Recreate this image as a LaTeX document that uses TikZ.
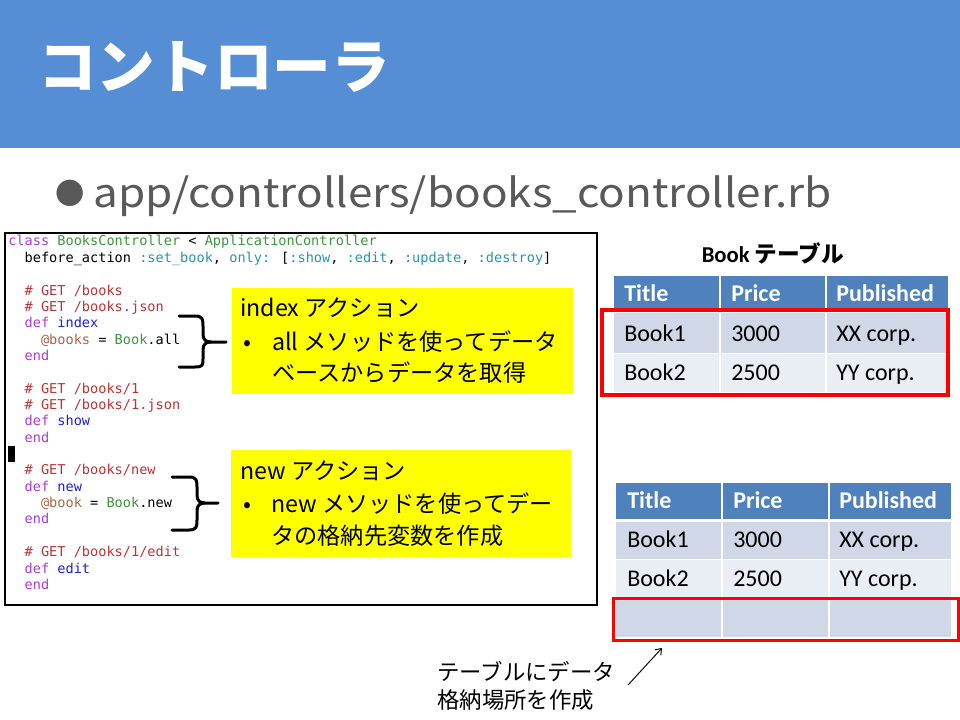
\documentclass[tikz,border=0pt]{standalone}
\usepackage{fontspec}
\usetikzlibrary{arrows.meta}
\setmainfont{Noto Sans CJK JP}
\newfontfamily\jpf{Noto Sans CJK JP}
\newfontfamily\calf{Carlito}
\newfontfamily\monof{DejaVu Sans Mono}
\definecolor{hdrblue}{RGB}{85,142,213}
\definecolor{graytxt}{RGB}{89,89,89}
\definecolor{tabhead}{RGB}{79,129,189}
\definecolor{tabrowa}{RGB}{208,216,232}
\definecolor{tabrowb}{RGB}{233,237,244}
\definecolor{kwc}{RGB}{175,60,210}
\definecolor{cnc}{RGB}{60,150,60}
\definecolor{syc}{RGB}{40,150,170}
\definecolor{cmc}{RGB}{190,50,50}
\definecolor{fnc}{RGB}{30,30,230}
\definecolor{ivc}{RGB}{170,100,70}
\definecolor{hlyellow}{RGB}{255,255,0}
\newcommand{\kwt}[1]{\textcolor{kwc}{#1}}
\newcommand{\cnt}[1]{\textcolor{cnc}{#1}}
\newcommand{\syt}[1]{\textcolor{syc}{#1}}
\newcommand{\cmt}[1]{\textcolor{cmc}{#1}}
\newcommand{\fnt}[1]{\textcolor{fnc}{#1}}
\newcommand{\ivt}[1]{\textcolor{ivc}{#1}}
\newcommand{\cdln}[4]{\node[codetxt] (#1) at ({8+8.19*#2},{246+16.35*#3}) {#4};}
\tikzset{
  codetxt/.style={anchor=base west, inner sep=0pt, font=\monof\fontsize{10.2pt}{12pt}\selectfont, text=black},
  boxtxt/.style={anchor=base west, inner sep=0pt, font=\jpf\fontsize{17.4pt}{22pt}\selectfont, text=black},
  thtxt/.style={anchor=base west, inner sep=0pt, font=\calf\bfseries\fontsize{18pt}{22pt}\selectfont, text=white},
  tdtxt/.style={anchor=base west, inner sep=0pt, font=\calf\fontsize{18pt}{22pt}\selectfont, text=black},
  bracepath/.style={line width=2.25pt, line cap=round, line join=round},
  redframe/.style={draw=red, line width=2.3pt},
  cellsep/.style={draw=white, line width=1.1pt},
  notetxt/.style={anchor=base west, inner sep=0pt, font=\jpf\fontsize{16.8pt}{20pt}\selectfont, text=black},
}
\begin{document}
\begin{tikzpicture}[x=0.75pt,y=-0.75pt]
\useasboundingbox (0,0) rectangle (960,720);
\fill[white] (0,0) rectangle (960,720);
% header band
\fill[hdrblue] (0,0) rectangle (960,148);
\node[anchor=base west, inner sep=0pt, text=white, font=\jpf\bfseries\fontsize{44pt}{50pt}\selectfont] (title) at (38,89) {コントローラ};
% bullet line
\node[anchor=base, inner sep=0pt, text=graytxt, font=\jpf\fontsize{22pt}{26pt}\selectfont] (bul) at (70,205) {●};
\node[anchor=base west, inner sep=0pt, xscale=1.1, text=graytxt, font=\jpf\fontsize{30pt}{36pt}\selectfont] (path) at (93,208) {app/controllers/books\_controller.rb};
% code box
\draw[line width=1pt] (5,233) rectangle (597,605);
\cdln{c0}{0}{0}{\kwt{class} \cnt{BooksController} < \cnt{ApplicationController}}
\cdln{c1}{2}{1}{before\_action \syt{:set\_book}, \syt{only:} [\syt{:show}, \syt{:edit}, \syt{:update}, \syt{:destroy}]}
\cdln{c3}{2}{3}{\cmt{\# GET /books}}
\cdln{c4}{2}{4}{\cmt{\# GET /books.json}}
\cdln{c5}{2}{5}{\kwt{def} \fnt{index}}
\cdln{c6}{4}{6}{\ivt{@books} = \cnt{Book}.all}
\cdln{c7}{2}{7}{\kwt{end}}
\cdln{c9}{2}{9}{\cmt{\# GET /books/1}}
\cdln{c10}{2}{10}{\cmt{\# GET /books/1.json}}
\cdln{c11}{2}{11}{\kwt{def} \fnt{show}}
\cdln{c12}{2}{12}{\kwt{end}}
\fill[black] (8,446) rectangle (15,462);
\cdln{c14}{2}{14}{\cmt{\# GET /books/new}}
\cdln{c15}{2}{15}{\kwt{def} \fnt{new}}
\cdln{c16}{4}{16}{\ivt{@book} = \cnt{Book}.new}
\cdln{c17}{2}{17}{\kwt{end}}
\cdln{c19}{2}{19}{\cmt{\# GET /books/1/edit}}
\cdln{c20}{2}{20}{\kwt{def} \fnt{edit}}
\cdln{c21}{2}{21}{\kwt{end}}
% yellow boxes
\node[fill=hlyellow, inner sep=0pt, minimum width=341*0.75pt, minimum height=106*0.75pt, anchor=north west] (boxa) at (232,288) {};
\node[boxtxt] (boxa1) at (240,316) {index アクション};
\node[boxtxt] (boxa2) at (243,350) {•};
\node[boxtxt] (boxa3) at (272,350) {all メソッドを使ってデータ};
\node[boxtxt] (boxa4) at (272,381) {ベースからデータを取得};
\node[fill=hlyellow, inner sep=0pt, minimum width=340*0.75pt, minimum height=107*0.75pt, anchor=north west] (boxb) at (231,450) {};
\node[boxtxt] (boxb1) at (240,479) {new アクション};
\node[boxtxt] (boxb2) at (243,512) {•};
\node[boxtxt] (boxb3) at (271,512) {new メソッドを使ってデー};
\node[boxtxt] (boxb4) at (271,544) {タの格納先変数を作成};
% braces
\coordinate (ba) at (226,342);
\coordinate (bb) at (218,503);
\draw[bracepath] (179,316) -- (195,316) .. controls (203,316) and (203,320) .. (203,326) -- (203,334) .. controls (203,340) and (206,342) .. (211,342) -- (ba);
\draw[bracepath] (211,342) .. controls (206,342) and (203,344) .. (203,350) -- (203,359) .. controls (203,365) and (203,367) .. (195,367) -- (179,367);
\draw[bracepath] (172,477) -- (189,477) .. controls (197,477) and (197,481) .. (197,487) -- (197,495) .. controls (197,501) and (200,503) .. (205,503) -- (bb);
\draw[bracepath] (205,503) .. controls (200,503) and (197,505) .. (197,511) -- (197,520) .. controls (197,526) and (197,530) .. (189,530) -- (172,530);
% table 1
\node[anchor=base, inner sep=0pt, font=\jpf\bfseries\fontsize{17pt}{20pt}\selectfont] (t1title) at (773,263) {{\calf\bfseries Book} テーブル};
\fill[tabhead] (614,276) rectangle (948,310);
\fill[tabrowa] (614,313) rectangle (948,353.5);
\fill[tabrowb] (614,353.5) rectangle (948,392);
\draw[cellsep] (614,353.5) -- (948,353.5);
\draw[cellsep] (720,276) -- (720,392);
\draw[cellsep] (826,276) -- (826,392);
\node[thtxt] (t1h1) at (624,301) {Title};
\node[thtxt] (t1h2) at (731,301) {Price};
\node[thtxt] (t1h3) at (836,301) {Published};
\node[tdtxt] (t1a1) at (624,341) {Book1};
\node[tdtxt] (t1a2) at (731,341) {3000};
\node[tdtxt] (t1a3) at (836,341) {XX corp.};
\node[tdtxt] (t1b1) at (624,380) {Book2};
\node[tdtxt] (t1b2) at (731,380) {2500};
\node[tdtxt] (t1b3) at (836,380) {YY corp.};
\draw[redframe] (602,310) rectangle (948,395);
% table 2
\fill[tabhead] (616,483) rectangle (951,519);
\fill[tabrowa] (616,522) rectangle (951,559.5);
\fill[tabrowb] (616,559.5) rectangle (951,598);
\fill[tabrowa] (616,598) rectangle (951,637);
\draw[cellsep] (616,559.5) -- (951,559.5);
\draw[cellsep] (616,598) -- (951,598);
\draw[cellsep] (722,483) -- (722,637);
\draw[cellsep] (829,483) -- (829,637);
\node[thtxt] (t2h1) at (627,508) {Title};
\node[thtxt] (t2h2) at (733,508) {Price};
\node[thtxt] (t2h3) at (839,508) {Published};
\node[tdtxt] (t2a1) at (627,547) {Book1};
\node[tdtxt] (t2a2) at (733,547) {3000};
\node[tdtxt] (t2a3) at (839,547) {XX corp.};
\node[tdtxt] (t2b1) at (627,586) {Book2};
\node[tdtxt] (t2b2) at (733,586) {2500};
\node[tdtxt] (t2b3) at (839,586) {YY corp.};
\node[draw=red, line width=2.3pt, inner sep=0pt, minimum width=345*0.75pt, minimum height=42*0.75pt, anchor=north west] (newrow) at (612,597) {};
% note
\node[notetxt] (note1) at (437,680) {テーブルにデータ};
\node[notetxt] (note2) at (437,708) {格納場所を作成};
\coordinate (arrstart) at (628,685);
\coordinate (arrend) at (662,648);
\draw[line width=0.7pt, -{Straight Barb[length=4pt,width=6pt]}] (arrstart) -- (arrend);
\end{tikzpicture}
\end{document}
